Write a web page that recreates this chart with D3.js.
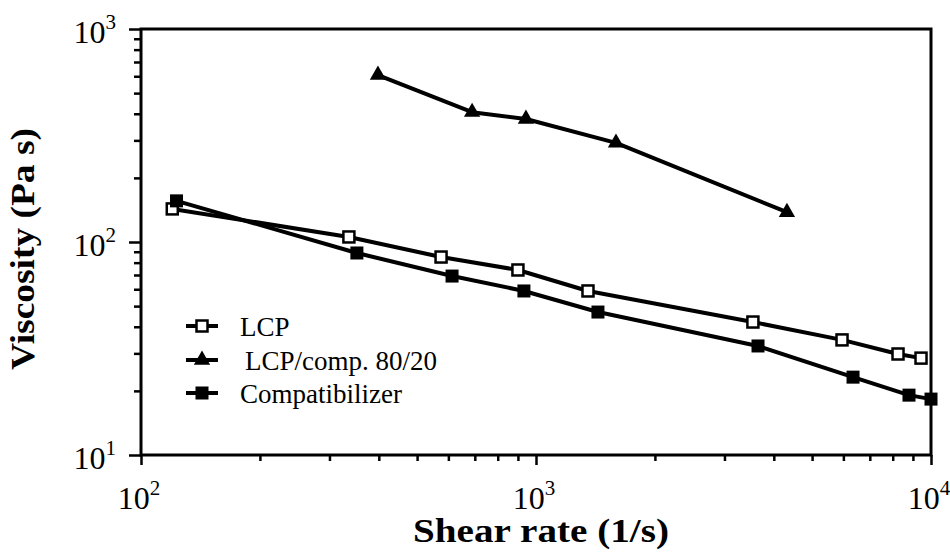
<!DOCTYPE html>
<html>
<head>
<meta charset="utf-8">
<script src="https://cdn.jsdelivr.net/npm/d3@7"></script>
<style>
  html, body { margin: 0; padding: 0; background: #fff; }
  svg { display: block; }
</style>
</head>
<body>
<svg id="chart" width="950" height="556"></svg>
<script>
// Shear rate (1/s) and viscosity (Pa s) for each material
const lcpShear = [120, 336, 575, 900, 1354, 3541, 5953, 8251, 9435];
const lcpVisc = [143, 105.6, 85, 73.9, 58.9, 42.1, 34.7, 29.8, 28.5];

const blendShear = [398, 689, 943, 1594, 4318];
const blendVisc = [608, 407, 378, 292, 138];

const compShear = [123, 352, 613, 932, 1435, 3648, 6348, 8796, 10000];
const compVisc = [156, 88.8, 69.2, 58.9, 46.9, 32.5, 23.2, 19.1, 18.3];

const seriesNames = ["LCP", "LCP/comp. 80/20", "Compatibilizer"];
const seriesMarkers = ["openSquare", "triangle", "filledSquare"];

// Decade tick labels: exponents of ten
const xTickExp = [2, 3, 4];
const yTickExp = [1, 2, 3];

const xTitle = "Shear rate (1/s)";
const yTitle = "Viscosity (Pa s)";

const FONT = "'Liberation Serif', 'Times New Roman', Times, 'DejaVu Serif', serif";

const svg = d3.select("#chart").attr("font-family", FONT);
const plotLeft = 141, plotRight = 931, plotTop = 29, plotBottom = 455;

const x = d3.scaleLog().domain([100, 10000]).range([plotLeft, plotRight]);
const y = d3.scaleLog().domain([10, 1000]).range([plotBottom, plotTop]);

function minorTicks(lo, hi) {
  const out = [];
  for (let d = lo; d < hi; d *= 10) {
    for (let k = 2; k <= 9; k++) out.push(d * k);
  }
  return out;
}

// Axes: minor and major ticks pointing outward
const axisG = svg.append("g");
axisG.append("g").attr("transform", `translate(0,${plotBottom})`)
  .call(d3.axisBottom(x).tickValues(minorTicks(100, 10000)).tickSize(6).tickFormat(""));
axisG.append("g").attr("transform", `translate(0,${plotBottom})`)
  .call(d3.axisBottom(x).tickValues(xTickExp.map(e => Math.pow(10, e))).tickSize(10).tickFormat(""));
axisG.append("g").attr("transform", `translate(${plotLeft},0)`)
  .call(d3.axisLeft(y).tickValues(minorTicks(10, 1000)).tickSize(7).tickFormat(""));
axisG.append("g").attr("transform", `translate(${plotLeft},0)`)
  .call(d3.axisLeft(y).tickValues(yTickExp.map(e => Math.pow(10, e))).tickSize(12).tickFormat(""));

axisG.selectAll(".domain").remove();
axisG.selectAll(".tick line").attr("stroke", "#000").attr("stroke-width", 2.5);

// Frame
svg.append("rect")
  .attr("x", plotLeft).attr("y", plotTop)
  .attr("width", plotRight - plotLeft).attr("height", plotBottom - plotTop)
  .attr("fill", "none").attr("stroke", "#000").attr("stroke-width", 3);

// Power-of-ten tick labels
function powerLabel(g, exp) {
  g.append("tspan").text("10");
  g.append("tspan").attr("font-size", 21).attr("dy", -14).text(exp);
}
xTickExp.forEach(e => {
  const t = svg.append("text")
    .attr("font-family", FONT)
    .attr("x", x(Math.pow(10, e)) - 2).attr("y", 509)
    .attr("text-anchor", "middle").attr("font-size", 32);
  powerLabel(t, e);
});
yTickExp.forEach(e => {
  const t = svg.append("text")
    .attr("font-family", FONT)
    .attr("x", 116).attr("y", y(Math.pow(10, e)) + 14)
    .attr("text-anchor", "end").attr("font-size", 32);
  powerLabel(t, e);
});

// Axis titles
svg.append("text")
  .attr("font-family", FONT)
  .attr("x", 413).attr("y", 542)
  .attr("font-size", 33).attr("font-weight", "bold")
  .attr("textLength", 256).attr("lengthAdjust", "spacingAndGlyphs")
  .text(xTitle);
svg.append("text")
  .attr("font-family", FONT)
  .attr("transform", "translate(34,370) rotate(-90)")
  .attr("font-size", 33).attr("font-weight", "bold")
  .attr("textLength", 242).attr("lengthAdjust", "spacingAndGlyphs")
  .text(yTitle);

// Markers
function drawMarker(g, kind, cx, cy) {
  if (kind === "triangle") {
    g.append("path")
      .attr("d", d3.symbol(d3.symbolTriangle, 115)())
      .attr("transform", `translate(${cx},${cy})`)
      .attr("fill", "#000");
  } else {
    const s = kind === "filledSquare" ? 13 : 11;
    g.append("rect")
      .attr("x", cx - s / 2).attr("y", cy - s / 2)
      .attr("width", s).attr("height", s)
      .attr("fill", kind === "filledSquare" ? "#000" : "#fff")
      .attr("stroke", "#000").attr("stroke-width", kind === "filledSquare" ? 0 : 2.5);
  }
}

const series = [
  { shear: lcpShear, visc: lcpVisc },
  { shear: blendShear, visc: blendVisc },
  { shear: compShear, visc: compVisc }
].map((s, i) => ({
  name: seriesNames[i],
  marker: seriesMarkers[i],
  points: s.shear.map((v, j) => [v, s.visc[j]])
}));

const line = d3.line().x(d => x(d[0])).y(d => y(d[1]));

// Lines first, then markers on top
const plotG = svg.append("g");
series.forEach(s => {
  plotG.append("path")
    .attr("d", line(s.points))
    .attr("fill", "none").attr("stroke", "#000")
    .attr("stroke-width", 4).attr("stroke-linejoin", "round");
});
series.forEach(s => {
  const g = plotG.append("g");
  s.points.forEach(p => drawMarker(g, s.marker, x(p[0]), y(p[1])));
});

// Legend
const legendRows = [326, 360, 393];
series.forEach((s, i) => {
  const g = svg.append("g");
  const cy = legendRows[i];
  g.append("line")
    .attr("x1", 186).attr("x2", 218).attr("y1", cy).attr("y2", cy)
    .attr("stroke", "#000").attr("stroke-width", 4);
  drawMarker(g, s.marker, 202, cy);
  g.append("text")
    .attr("font-family", FONT)
    .attr("x", i === 1 ? 245 : 240).attr("y", cy + 10)
    .attr("font-size", 27)
    .text(s.name);
});
</script>
</body>
</html>
